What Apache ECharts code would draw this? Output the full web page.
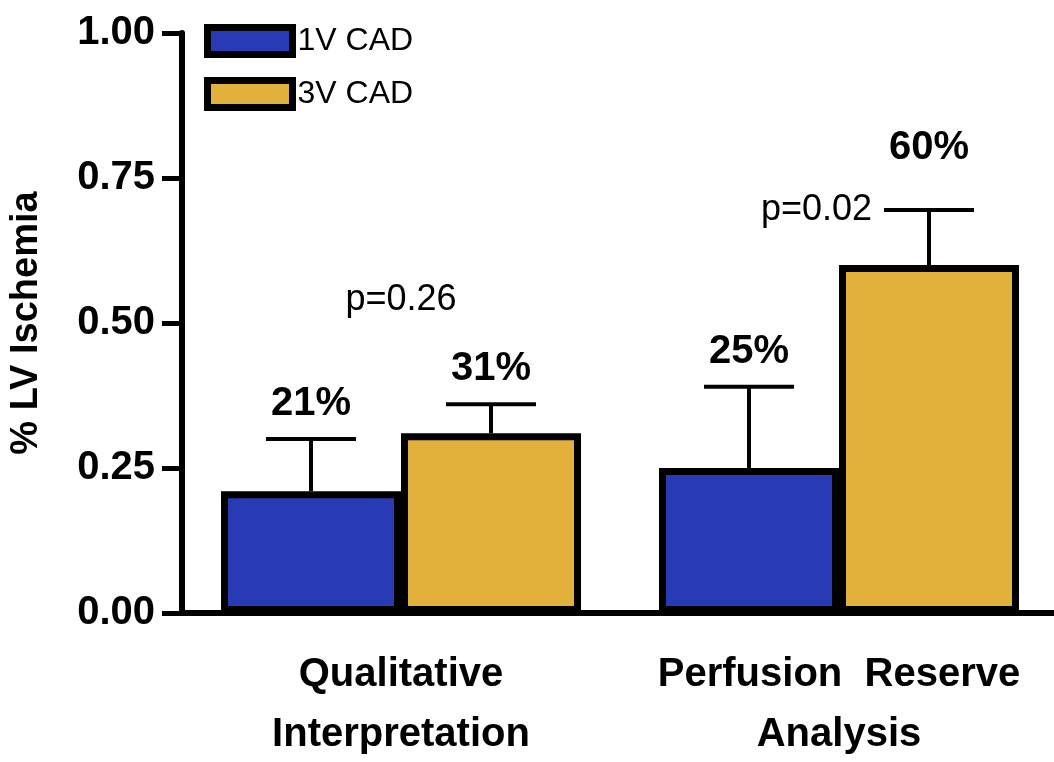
<!DOCTYPE html>
<html>
<head>
<meta charset="utf-8">
<script src="https://cdn.jsdelivr.net/npm/echarts@6/dist/echarts.min.js"></script>
<style>
  html, body { margin: 0; padding: 0; background: #fff; }
  #chart { width: 1054px; height: 762px; }
</style>
</head>
<body>
<div id="chart"></div>
<script>
// --- data ---
const categories = ['Qualitative\nInterpretation', 'Perfusion  Reserve\nAnalysis'];
const seriesNames = ['1V CAD', '3V CAD'];
const values1V = [0.21, 0.25];
const values3V = [0.31, 0.60];
const errTop1V = [0.30, 0.39];
const errTop3V = [0.36, 0.695];
const pLabels = ['p=0.26', 'p=0.02'];
const yTicks = [0, 0.25, 0.5, 0.75, 1.0];

// --- style ---
const BLUE = '#283ab4';
const GOLD = '#e2b13c';
const FONT = '"Liberation Sans", Arial, Helvetica, sans-serif';
const BAR_W = 180;
const HALF = BAR_W / 2;
const CAP = 45;

const chart = echarts.init(document.getElementById('chart'));

// error bar rows: [category, mean, top, seriesIndex]
const errData = [];
values1V.forEach((v, i) => errData.push([i, v, errTop1V[i], 0]));
values3V.forEach((v, i) => errData.push([i, v, errTop3V[i], 1]));

// percent label lift above cap (60% sits higher to clear the p-value)
const liftFor = (cat, s) => (cat === 1 && s === 1 ? 62 : 35);

function renderErr(params, api) {
  const cat = api.value(0), low = api.value(1), high = api.value(2), s = api.value(3);
  const x = api.coord([cat, 0])[0] + (s ? HALF : -HALF);
  const yLow = api.coord([cat, low])[1];
  const yHigh = api.coord([cat, high])[1];
  const st = { stroke: '#000', lineWidth: 4 };
  return {
    type: 'group',
    children: [
      { type: 'line', shape: { x1: x, y1: yLow, x2: x, y2: yHigh }, style: st },
      { type: 'line', shape: { x1: x - CAP, y1: yHigh, x2: x + CAP, y2: yHigh }, style: st },
      {
        type: 'text',
        style: {
          x: x, y: yHigh - liftFor(cat, s),
          text: Math.round(low * 100) + '%',
          font: 'bold 40px ' + FONT,
          fill: '#000', align: 'center', verticalAlign: 'middle'
        }
      }
    ]
  };
}

// p-value labels: group 0 centred over the pair, group 1 left of the 3V cap
const pData = pLabels.map((t, i) => [i, i === 0 ? 0.54 : errTop3V[i], t]);
function renderP(params, api) {
  const cat = api.value(0), v = api.value(1);
  const c = api.coord([cat, v]);
  const first = cat === 0;
  return {
    type: 'text',
    style: {
      x: first ? c[0] : c[0] + HALF - CAP - 12,
      y: c[1],
      text: pLabels[cat],
      font: '36px ' + FONT,
      fill: '#000',
      align: first ? 'center' : 'right',
      verticalAlign: 'middle'
    }
  };
}

const option = {
  backgroundColor: '#fff',
  animation: false,
  legend: {
    orient: 'vertical',
    left: 199,
    top: 19,
    itemWidth: 85,
    itemHeight: 27,
    itemGap: 19,
    icon: 'rect',
    data: seriesNames,
    itemStyle: { borderColor: '#000', borderWidth: 7 },
    textStyle: { fontFamily: FONT, fontSize: 32, color: '#000' }
  },
  grid: { left: 182, right: -4, top: 33, bottom: 149, outerBoundsMode: 'none' },
  xAxis: {
    type: 'category',
    data: categories,
    axisTick: { show: false },
    axisLine: { lineStyle: { color: '#000', width: 6 } },
    axisLabel: {
      color: '#000', fontFamily: FONT, fontWeight: 'bold', fontSize: 40,
      lineHeight: 60, margin: 32, interval: 0
    }
  },
  yAxis: {
    type: 'value',
    min: 0, max: 1, interval: 0.25,
    name: '% LV Ischemia',
    nameLocation: 'middle',
    nameGap: 136,
    nameTextStyle: { color: '#000', fontFamily: FONT, fontWeight: 'bold', fontSize: 38 },
    splitLine: { show: false },
    axisLine: { show: true, lineStyle: { color: '#000', width: 6 } },
    axisTick: { show: true, length: 20, lineStyle: { color: '#000', width: 5 } },
    axisLabel: {
      color: '#000', fontFamily: FONT, fontWeight: 'bold', fontSize: 40, margin: 27,
      customValues: yTicks,
      formatter: v => v.toFixed(2)
    }
  },
  series: [
    {
      name: seriesNames[0], type: 'bar', data: values1V,
      barWidth: BAR_W, barGap: '0%',
      itemStyle: { color: BLUE, borderColor: '#000', borderWidth: 7 }
    },
    {
      name: seriesNames[1], type: 'bar', data: values3V,
      barWidth: BAR_W, barGap: '0%',
      itemStyle: { color: GOLD, borderColor: '#000', borderWidth: 7 }
    },
    { type: 'custom', renderItem: renderErr, data: errData, z: 5, silent: true },
    { type: 'custom', renderItem: renderP, data: pData, z: 5, silent: true }
  ]
};

chart.setOption(option);
</script>
</body>
</html>
